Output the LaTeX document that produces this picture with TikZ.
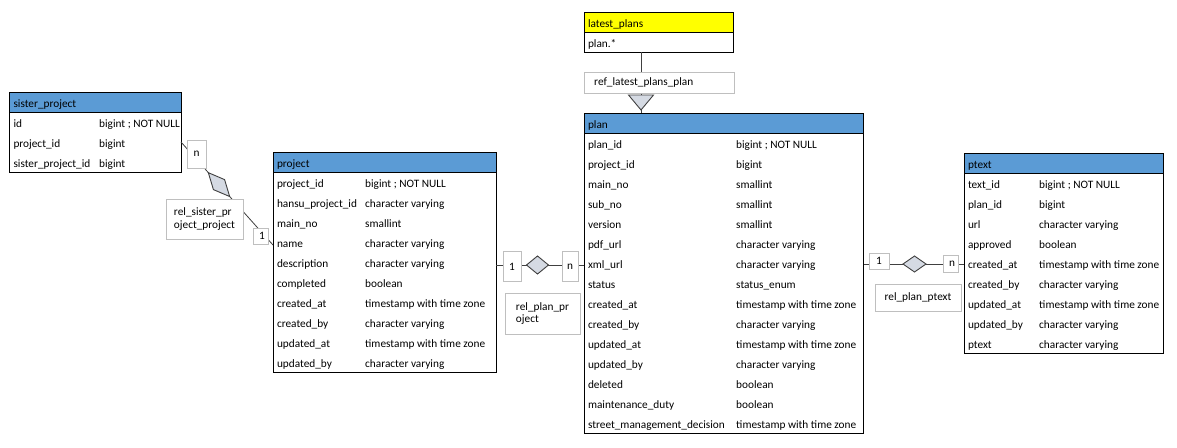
\documentclass[tikz,border=0pt]{standalone}
\usepackage{fontspec}
\setmainfont{Carlito}
\usetikzlibrary{shapes.geometric}
\definecolor{hdr}{HTML}{5B9BD5}
\definecolor{relfill}{HTML}{D5DAE3}
\definecolor{boxgray}{HTML}{BFBFBF}
\definecolor{conn}{HTML}{404040}
\definecolor{ylw}{HTML}{FFFF00}
\tikzset{
  txt/.style={anchor=base west, inner sep=0pt, font=\fontsize{11.3}{13}\selectfont},
  tblnode/.style={inner sep=0pt, outer sep=0pt},
  tblline/.style={draw=black, line width=1pt},
  connline/.style={draw=conn, line width=0.8pt},
  relbox/.style={draw=boxgray, fill=white, line width=1pt, inner sep=1pt, outer sep=0pt,
    font=\fontsize{11.3}{12.5}\selectfont},
  reldiam/.style={diamond, draw=conn, fill=relfill, line width=0.9pt, inner sep=0pt, outer sep=0pt},
}
% #1 name, #2 x, #3 y, #4 width, #5 type offset, #6 title, #7 rows, #8 list, #9 header colour
\newcommand{\ertable}[9]{%
  \pgfmathsetmacro\tblh{20*(#7+1)}%
  \node[tblnode, minimum width=#4pt, minimum height=\tblh pt, anchor=north west] (#1) at (#2,#3) {};
  \fill[#9] (#1.north west) rectangle ([yshift=-20pt]#1.north east);
  \draw[tblline] (#1.north west) rectangle (#1.south east);
  \draw[tblline] ([yshift=-20pt]#1.north west) -- ([yshift=-20pt]#1.north east);
  \node[txt] (#1-title) at ([xshift=3.8pt,yshift=-15.5pt]#1.north west) {#6};
  \foreach \fn/\ft [count=\i] in {#8} {
    \node[txt] (#1-f\i) at ([xshift=3.8pt,yshift={-(15.5+20*\i)*1pt}]#1.north west) {\fn};
    \node[txt] (#1-t\i) at ([xshift=#5pt,yshift={-(15.5+20*\i)*1pt}]#1.north west) {\ft};
  }%
}
\begin{document}
\begin{tikzpicture}[x=1pt,y=-1pt]
\useasboundingbox[fill=white] (0,0) rectangle (1177,447);

\ertable{sister}{9.5}{92}{171.5}{89.5}{sister\_project}{3}{%
  id/bigint ; NOT NULL,
  project\_id/bigint,
  sister\_project\_id/bigint}{hdr}

\ertable{project}{273}{152}{223}{92}{project}{10}{%
  project\_id/bigint ; NOT NULL,
  hansu\_project\_id/character varying,
  main\_no/smallint,
  name/character varying,
  description/character varying,
  completed/boolean,
  created\_at/timestamp with time zone,
  created\_by/character varying,
  updated\_at/timestamp with time zone,
  updated\_by/character varying}{hdr}

\ertable{plan}{584}{113}{279.5}{152}{plan}{15}{%
  plan\_id/bigint ; NOT NULL,
  project\_id/bigint,
  main\_no/smallint,
  sub\_no/smallint,
  version/smallint,
  pdf\_url/character varying,
  xml\_url/character varying,
  status/status\_enum,
  created\_at/timestamp with time zone,
  created\_by/character varying,
  updated\_at/timestamp with time zone,
  updated\_by/character varying,
  deleted/boolean,
  maintenance\_duty/boolean,
  street\_management\_decision/timestamp with time zone}{hdr}

\ertable{ptext}{964}{153}{199}{75}{ptext}{9}{%
  text\_id/bigint ; NOT NULL,
  plan\_id/bigint,
  url/character varying,
  approved/boolean,
  created\_at/timestamp with time zone,
  created\_by/character varying,
  updated\_at/timestamp with time zone,
  updated\_by/character varying,
  ptext/character varying}{hdr}

\ertable{latest}{584}{12}{149.5}{80}{latest\_plans}{1}{plan.*/{}}{ylw}

% ---- rel_sister_project_project
\coordinate (sA) at ([yshift=-50pt]sister.north east);
\coordinate (sB) at ([yshift=-93pt]project.north west);
\draw[connline] (sA) -- (sB);
\node[relbox, minimum width=19pt, minimum height=28pt] (srn) at (196.5,154) {n};
\node[reldiam, minimum width=32pt, minimum height=15pt, rotate=-48.2] (srd) at (219,184.6) {};
\node[relbox, minimum width=77pt, minimum height=40pt, align=left] (srl) at (204.5,219) {rel\_sister\_pr\\oject\_project};
\node[relbox, minimum width=15pt, minimum height=16pt] (sr1) at (260.5,236) {\hspace{3pt}1};

% ---- rel_plan_project
\draw[connline] ([yshift=-113pt]project.north east) -- ([yshift=-152pt]plan.north west);
\node[relbox, minimum width=18pt, minimum height=30pt] (pp1) at (512,266.5) {1};
\node[reldiam, minimum width=22pt, minimum height=18pt] (ppd) at (537.5,265) {};
\node[relbox, minimum width=16pt, minimum height=30pt] (ppn) at (570,266.5) {n};
\node[relbox, minimum width=75pt, minimum height=41pt, align=left] (ppl) at (542.5,313.5) {rel\_plan\_pr\\oject};

% ---- rel_plan_ptext
\draw[connline] ([yshift=-151pt]plan.north east) -- ([yshift=-111pt]ptext.north west);
\node[relbox, minimum width=20pt, minimum height=16pt] (pt1) at (879,261) {1};
\node[reldiam, minimum width=23pt, minimum height=16pt] (ptd) at (914.5,264) {};
\node[relbox, minimum width=15pt, minimum height=17pt] (ptn) at (950.5,264) {\raisebox{-2pt}{\hspace{3pt}n}};
\node[relbox, minimum width=86pt, minimum height=27pt] (ptl) at (918,297.5) {rel\_plan\_ptext};

% ---- ref_latest_plans_plan
\coordinate (rx) at (641,0);
\draw[connline] (latest.south -| rx) -- (plan.north -| rx);
\node[relbox, minimum width=150pt, minimum height=21pt] (ref) at (659,82.5) {};
\node[txt, anchor=west] (reftxt) at ([xshift=10pt]ref.west) {ref\_latest\_plans\_plan};
\coordinate (tL) at (628.5,95);
\coordinate (tR) at (653.5,95);
\coordinate (tT) at (641,110);
\filldraw[draw=conn, fill=relfill, line width=0.9pt] (tL) -- (tR) -- (tT) -- cycle;
\end{tikzpicture}
\end{document}
